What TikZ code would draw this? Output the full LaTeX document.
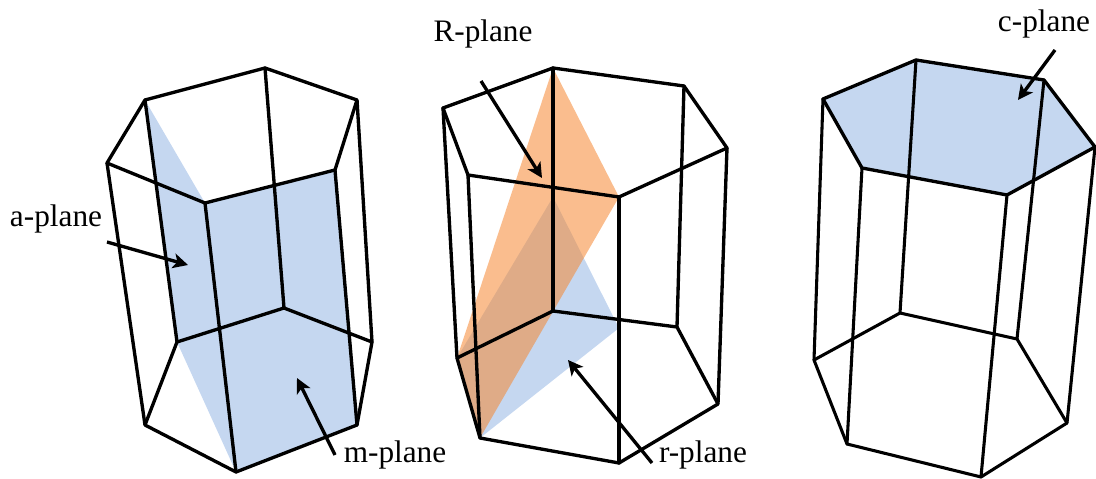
\documentclass[tikz,border=0pt]{standalone}
\usepackage{fontspec}
\setmainfont{Liberation Serif}
\usetikzlibrary{arrows.meta}
\definecolor{myblue}{RGB}{197, 215, 240}
\definecolor{myorange}{RGB}{245, 135, 50}
\tikzset{
  frame/.style={line width=1.9pt, line join=round, line cap=round},
  thinframe/.style={line width=1.75pt, line join=round, line cap=round},
  pointer/.style={-{Stealth[length=8.5pt, width=8.5pt, inset=2.2pt]}, line width=1.9pt},
  label/.style={font=\fontsize{17.8}{20}\selectfont, inner sep=0pt},
}

\begin{document}
\begin{tikzpicture}[x=0.02cm, y=-0.02cm]
\useasboundingbox (0,0) rectangle (1096,479);

% left prism
\coordinate (A1) at (145,100);
\coordinate (A2) at (265,68);
\coordinate (A3) at (357,100);
\coordinate (A4) at (335,170);
\coordinate (A5) at (205,203);
\coordinate (A6) at (107,163);
\coordinate (B1) at (177,342);
\coordinate (B2) at (284,308);
\coordinate (B3) at (372,342);
\coordinate (B4) at (357,425);
\coordinate (B5) at (236,472);
\coordinate (B6) at (145,425);

\fill[myblue] (A1) -- (A5) -- (A4) -- (B4) -- (B5) -- (B1) -- cycle;
\draw[frame] (A1) -- (A2) -- (A3) -- (A4) -- (A5) -- (A6) -- cycle;
\draw[frame] (B1) -- (B2) -- (B3) -- (B4) -- (B5) -- (B6) -- cycle;
\foreach \i in {1,...,6}{
  \draw[frame] (A\i) -- (B\i);
}

% middle prism
\coordinate (C1) at (443,108);
\coordinate (C2) at (553,68);
\coordinate (C3) at (684,86);
\coordinate (C4) at (727,148);
\coordinate (C5) at (619,197);
\coordinate (C6) at (468,175);
\coordinate (D1) at (457,358);
\coordinate (D2) at (553,311);
\coordinate (D3) at (677,327);
\coordinate (D4) at (718,404);
\coordinate (D5) at (619,463);
\coordinate (D6) at (480,438);
\coordinate (Rtip) at (553,197);
\coordinate (Rend) at (619,328);

\fill[myblue] (D1) -- (Rtip) -- (Rend) -- (D6) -- cycle;
\fill[myorange, fill opacity=0.55] (C2) -- (C5) -- (D6) -- (D1) -- cycle;
\draw[frame] (C1) -- (C2) -- (C3) -- (C4) -- (C5) -- (C6) -- cycle;
\draw[frame] (D1) -- (D2) -- (D3) -- (D4) -- (D5) -- (D6) -- cycle;
\foreach \i in {1,...,6}{
  \draw[frame] (C\i) -- (D\i);
}

% right prism
\coordinate (E1) at (823,99);
\coordinate (E2) at (916,60);
\coordinate (E3) at (1044,80);
\coordinate (E4) at (1095,147);
\coordinate (E5) at (1007,195);
\coordinate (E6) at (862,168);
\coordinate (F1) at (814,360);
\coordinate (F2) at (900,313);
\coordinate (F3) at (1017,339);
\coordinate (F4) at (1067,423);
\coordinate (F5) at (981,477);
\coordinate (F6) at (847,444);

\fill[myblue] (E1) -- (E2) -- (E3) -- (E4) -- (E5) -- (E6) -- cycle;
\draw[frame] (E1) -- (E2) -- (E3) -- (E4) -- (E5) -- (E6) -- cycle;
\draw[thinframe] (F1) -- (F2) -- (F3) -- (F4) -- (F5) -- (F6) -- cycle;
\foreach \i in {1,...,6}{
  \draw[thinframe] (E\i) -- (F\i);
}

% labels
\node[label] (aplane) at (56,219) {a-plane};
\node[label] (mplane) at (395,455) {m-plane};
\node[label] (Rplane) at (483,34) {R-plane};
\node[label] (rplane) at (703,455) {r-plane};
\node[label] (cplane) at (1044,24) {c-plane};

\coordinate (a0) at (107,242);
\coordinate (a1) at (188,265);
\coordinate (m0) at (335,455);
\coordinate (m1) at (297,378);
\coordinate (R0) at (481,81);
\coordinate (R1) at (542,178);
\coordinate (r0) at (652,463);
\coordinate (r1) at (568,360);
\coordinate (c0) at (1055,50);
\coordinate (c1) at (1018,100);

\draw[pointer] (a0) -- (a1);
\draw[pointer] (m0) -- (m1);
\draw[pointer] (R0) -- (R1);
\draw[pointer] (r0) -- (r1);
\draw[pointer] (c0) -- (c1);
\end{tikzpicture}
\end{document}
